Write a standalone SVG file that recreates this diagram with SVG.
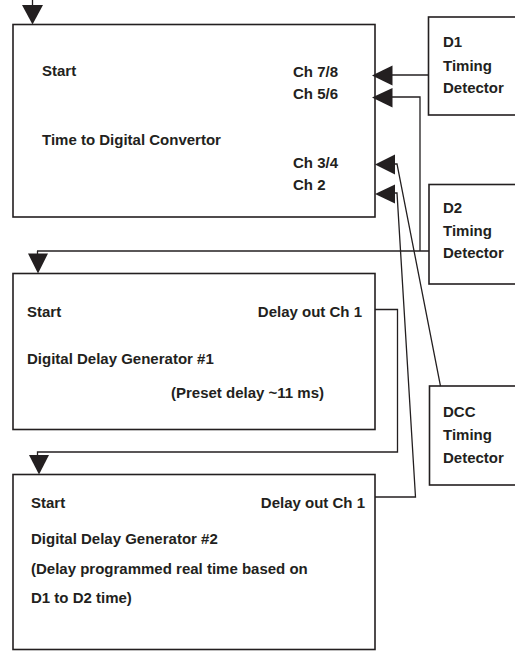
<svg xmlns="http://www.w3.org/2000/svg" width="515" height="651" viewBox="0 0 515 651">
<style>
.box{fill:#fff;stroke:#231f20;stroke-width:1.6}
.ln{fill:none;stroke:#231f20;stroke-width:1.3}
.ah{fill:#231f20;stroke:none}
text{font-family:"Liberation Sans",Arial,sans-serif;font-size:15px;font-weight:bold;fill:#231f20}
.e{text-anchor:end}
</style>
<rect width="515" height="651" fill="#fff"/>
<g id="tdc">
<rect class="box" x="13" y="24.5" width="362" height="192.5"/>
<text x="42" y="76">Start</text>
<text x="42" y="145">Time to Digital Convertor</text>
<text x="293" y="77">Ch 7/8</text>
<text x="293" y="99">Ch 5/6</text>
<text x="293" y="168">Ch 3/4</text>
<text x="293" y="190">Ch 2</text>
</g>
<g id="d1">
<rect class="box" x="428.5" y="17" width="100" height="98"/>
<text x="443" y="47">D1</text>
<text x="443" y="71">Timing</text>
<text x="443" y="93">Detector</text>
</g>
<g id="d2">
<rect class="box" x="429" y="184.5" width="100" height="99.5"/>
<text x="443" y="213">D2</text>
<text x="443" y="236">Timing</text>
<text x="443" y="258">Detector</text>
</g>
<g id="dcc">
<rect class="box" x="429.5" y="386" width="100" height="99"/>
<text x="443" y="417">DCC</text>
<text x="443" y="440">Timing</text>
<text x="443" y="463">Detector</text>
</g>
<g id="ddg1">
<rect class="box" x="13" y="273.5" width="362" height="156"/>
<text x="27" y="317">Start</text>
<text class="e" x="362" y="317">Delay out Ch 1</text>
<text x="27" y="364">Digital Delay Generator #1</text>
<text class="e" x="324" y="398">(Preset delay ~11 ms)</text>
</g>
<g id="ddg2">
<rect class="box" x="13" y="474.5" width="362" height="175"/>
<text x="31" y="508">Start</text>
<text class="e" x="365" y="508">Delay out Ch 1</text>
<text x="31" y="544">Digital Delay Generator #2</text>
<text x="31" y="574">(Delay programmed real time based on</text>
<text x="31" y="603">D1 to D2 time)</text>
</g>
<g id="connectors">
<line class="ln" x1="32.5" y1="0" x2="32.5" y2="6"/>
<polygon class="ah" points="22,5 43,5 32.5,24.5"/>
<line class="ln" x1="390" y1="75" x2="428.5" y2="75"/>
<polygon class="ah" points="372,75.5 392.5,65.5 392.5,85.5"/>
<polyline class="ln" points="390,97 420,97 420,251"/>
<polygon class="ah" points="372,97.5 392.5,88 392.5,107.5"/>
<line class="ln" x1="37" y1="251" x2="429" y2="251"/>
<line class="ln" x1="37.5" y1="251" x2="37.5" y2="255"/>
<polygon class="ah" points="28,253.5 48,253.5 38,273.5"/>
<polyline class="ln" points="394,164 397,164 440.5,386"/>
<polygon class="ah" points="375,164.5 395,154.5 395,174.5"/>
<polyline class="ln" points="394,193 397,193 415.5,497 375,497"/>
<polygon class="ah" points="375,194 395,184.5 395,203.5"/>
<polyline class="ln" points="375,309.5 397.5,309.5 397.5,452 37.5,452 37.5,456"/>
<polygon class="ah" points="29,455 49,455 39,474.5"/>
</g>
</svg>
